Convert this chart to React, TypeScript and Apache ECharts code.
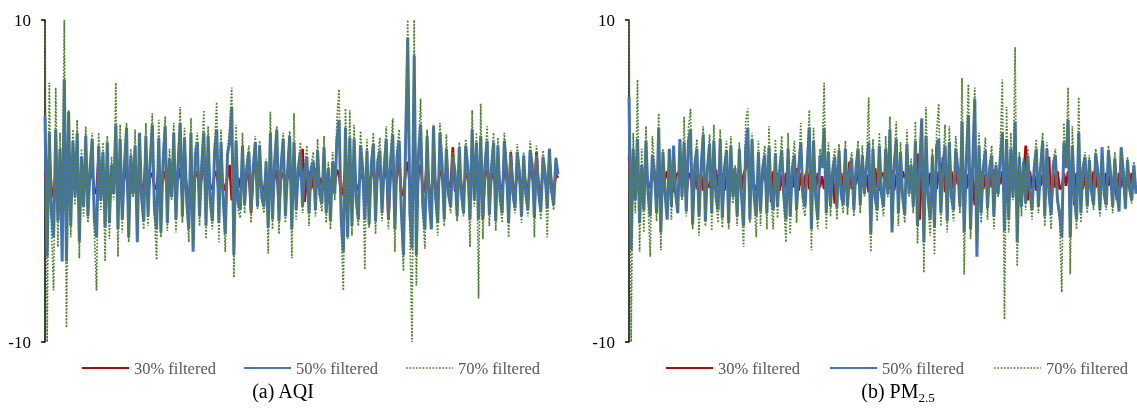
import React, { useEffect, useRef } from "react";
import * as echarts from "echarts";

const seriesNames = ["30% filtered", "50% filtered", "70% filtered"];
const yTicks = [-10, 10];
const panelTitles = ["(a) AQI", "(b) PM{sub|2.5}"];

// (a) AQI
const aqi30 = [
  0.5, -0.8, 1.5, -0.4, -1.0, 0.6, -0.4, 0.3, -0.9, 0.8, -0.9, 0.5,
  -0.6, 0.8, -0.2, 0.4, -0.7, 0.3, -0.6, 0.9, -0.5, 0.2, 0.7, -0.8,
  -0.6, 1.6, -0.3, 0.4, -1.2, 0.6, -0.5, 0.2, -0.3, 1.6, -0.7, 0.5,
  -1.0, 0.3, 0.8, -1.8, 0.6, -0.2, 0.5, -1.2, 0.4, -0.3, -0.6, 1.7,
  -0.8, 0.3, 0.5, -0.4, -0.5, 1.0, -0.7, 0.2, 0.6, -0.9, 0.4, -0.3,
  0.4, -0.5, 0.2, 0.8, -1.0, 0.6, -0.3, -1.7, 0.5, -0.4, 0.3, 0.6,
  -0.5, 0.2, 1.8, -1.0, 0.7, -0.3, -0.5, 0.4, 0.6, -0.8, 0.4, -0.2,
  -0.6, 0.3, 1.0, -1.2, 0.5, -0.4, 0.2, -0.4, 0.6, -0.3, 0.2, 0.5,
  -2.0, 0.4, 1.2, -0.6, 0.5, -0.3, -0.7, 0.3, -0.9, 0.8, -0.6, 0.3,
  0.7, -1.7, 0.3, 0.5, -0.4, 0.2, 0.9, -0.6, 1.5, -0.8, 0.3, 0.6,
  2.0, -1.3, 0.3, 0.6, -0.5, 0.2, 0.8, -0.4, 0.2, -0.3, 0.6, -0.7,
  0.3, -0.6, 0.5, -0.2, 0.7, 0.4, -0.9, -0.5, 1.0, -0.8, 0.6, -0.5,
  0.9, -0.3, -0.6, 0.5, 0.2, -0.7, 0.6, -0.5, 0.3, 0.8, -0.6, 0.4,
  0.7, -0.4, 0.2, 1.5, -2.4, 0.4, 0.8, -0.6, 0.3, 1.4, -0.8, -0.9,
  0.6, 1.2, -0.4, -1.2, 3.8, -1.5, 0.5, 1.0, -0.4, -0.7, 1.5, -0.6,
  -0.8, 0.8, -0.3, -0.6, 0.7, 0.3, -0.9, 0.5, -0.2, -0.4, 2.1, -0.6,
  -0.7, 0.7, -0.3, -0.8, 0.5, 0.2, -0.7, 0.6, -0.3, 0.5, -0.5, 1.6,
  -2.4, 0.4, 0.7, -0.6, 0.2, 0.5, -0.6, 0.8, -0.3, -0.5, 0.7, 0.2,
  -0.9, 1.8, -0.3, -0.6, 0.5, 0.2, -0.8, 0.6, -0.2, -0.5, 0.7, 0.3,
  -0.6, 1.8, -0.3, -0.7, 0.5, 0.2, -0.8, 1.3, -0.2, -0.6, 0.4, 0.2,
];
const aqi50 = [
  4.0, -4.7, 3.0, -2.0, -3.5, 3.2, -2.5, 2.0, -5.0, 6.3, -5.0, 4.3,
  -2.8, 2.5, -1.0, 3.0, -3.8, 1.5, -1.6, 2.8, -2.2, 0.8, 2.6, -2.4,
  -3.5, 2.2, -1.2, 1.8, -2.9, 2.4, -2.6, 1.0, -0.8, 3.5, -3.0, 2.6,
  -2.4, 1.0, 3.3, -3.5, 1.6, -0.8, 2.2, -3.8, 3.0, -1.0, -2.5, 2.8,
  -2.2, 1.2, 3.5, -1.8, -3.0, 2.7, -3.2, 1.2, 3.4, -2.6, 1.4, -1.0,
  3.0, -2.4, 1.0, 3.6, -2.2, 2.7, -1.2, -3.0, 3.0, -4.4, 1.6, 2.4,
  -2.2, 1.0, 3.0, -2.8, 2.8, -1.2, -2.5, 1.8, 3.2, -2.6, 2.4, -1.0,
  -3.3, 1.6, 2.4, 4.6, -4.6, 2.5, -1.4, -1.8, 2.2, -1.5, 0.8, 1.8,
  -1.8, 0.8, 2.4, -1.6, 2.2, -1.0, -1.6, 1.2, -2.9, 3.0, -2.4, 1.2,
  3.2, -2.5, 1.0, 2.6, -2.2, 0.6, 2.8, -3.0, 2.4, -1.8, 0.8, 1.8,
  -1.6, 0.6, 1.5, -2.0, 0.8, 1.2, -1.8, 1.9, -0.8, -1.4, 2.1, -2.0,
  0.8, -2.5, 1.2, -0.8, 2.6, 3.8, -2.4, -4.4, 3.3, -3.5, 2.7, -2.8,
  2.6, -1.2, -2.4, 2.2, 0.8, -2.4, 1.9, -2.7, 1.0, 2.3, -2.5, 1.2,
  1.9, -2.0, 0.8, 2.6, -2.3, 1.2, 2.9, -3.0, 1.5, 2.5, -1.8, -4.6,
  2.4, 8.9, -2.0, -4.2, 7.8, -4.6, 1.6, 3.5, -1.5, -3.0, 2.8, -1.2,
  -3.0, 3.4, -1.0, -2.6, 3.0, 1.0, -2.4, 2.0, -0.8, -1.6, 1.5, 0.6,
  -2.2, 2.1, -0.8, -2.0, 2.2, 0.8, -2.4, 3.2, -1.2, 2.4, -2.4, 2.8,
  -2.2, 1.0, 2.5, -2.1, 0.8, 2.4, -2.5, 2.2, -1.0, -2.0, 2.5, 0.8,
  -2.6, 1.6, -0.8, -1.7, 1.8, 0.6, -2.2, 1.6, -0.8, -1.8, 1.9, 1.0,
  -2.3, 1.6, -0.8, -1.9, 1.5, 0.5, -1.7, 2.0, -0.6, -1.5, 1.4, 0.4,
];
const aqi70 = [
  9.8, -10, 6.1, -3.0, -6.8, 5.8, -4.1, 3.0, -2.0, 10, -9.1, 4.4,
  -3.5, 3.2, -1.5, 3.8, -4.8, 2.0, -2.2, 3.4, -2.6, 1.0, 3.0, -3.2,
  -6.8, 3.0, -1.8, 2.4, -5.0, 2.8, -3.6, 1.5, -1.2, 6.1, -4.7, 3.5,
  -3.2, 1.2, 3.6, -3.8, 2.0, -1.0, 3.2, -3.4, 2.9, -1.4, -3.0, 3.6,
  -2.8, 1.5, 4.2, -2.2, -4.9, 3.8, -3.5, 1.6, 4.0, -3.1, 2.0, -1.2,
  3.6, -3.2, 1.4, 4.6, -2.6, 3.3, -1.5, -3.8, 3.9, -4.0, 2.0, 3.0,
  -2.8, 1.2, 4.4, -3.6, 3.4, -1.6, -3.0, 2.2, 4.9, -3.8, 3.2, -1.4,
  -4.4, 2.0, 3.2, 5.8, -6.0, 3.5, -1.8, -2.3, 3.0, -2.0, 1.2, 2.2,
  -2.6, 1.0, 2.8, -1.8, 2.5, -1.2, -2.0, 1.4, -4.5, 4.3, -3.0, 1.6,
  3.4, -3.3, 1.2, 3.0, -2.6, 0.8, 3.1, -4.8, 4.2, -2.4, 1.0, 2.4,
  -2.0, 0.8, 2.2, -2.8, 1.0, 1.8, -2.2, 2.6, -1.0, -1.9, 2.8, -2.6,
  1.2, -3.0, 1.8, -1.2, 3.8, 5.7, -3.0, -6.8, 4.5, -3.6, 4.4, -3.4,
  3.5, -1.5, -2.8, 3.1, 1.0, -5.5, 2.6, -2.9, 1.2, 3.0, -3.3, 1.4,
  2.7, -2.5, 1.0, 3.4, -3.0, 1.6, 3.9, -4.4, 2.0, 3.2, -2.2, -5.6,
  3.0, 10, -3.0, -10, 10, -6.5, 2.0, 5.1, -2.0, -4.2, 3.2, -1.6,
  -3.0, 3.5, -1.4, -3.4, 3.6, 1.2, -2.8, 2.9, -1.0, -2.0, 1.8, 0.8,
  -2.5, 2.4, -1.0, -2.2, 2.6, 1.0, -4.1, 4.4, -1.6, 3.0, -7.3, 4.8,
  -3.6, 1.4, 3.4, -2.8, 1.0, 3.0, -3.1, 2.7, -1.2, -2.6, 3.0, 1.0,
  -3.5, 1.9, -1.0, -2.0, 2.3, 0.8, -2.6, 1.8, -1.0, -2.2, 2.5, 1.2,
  -3.5, 2.2, -1.0, -2.4, 1.9, 0.6, -3.5, 2.0, -0.8, -1.8, 1.5, 0.5,
];

// (b) PM2.5
const pm30 = [
  1.5, -1.0, 1.7, -0.4, 0.6, -0.6, 0.3, -0.8, 0.6, -0.2, -0.4, 0.7,
  0.2, -0.6, -1.0, 0.5, -0.4, 0.2, 0.6, -0.5, 0.4, -0.7, 0.2, 0.5,
  0.6, -0.3, 0.4, -1.0, 0.5, 0.3, -0.6, 0.7, -0.5, 0.2, 0.4, -0.6,
  0.5, -0.2, -0.4, 0.6, -0.5, 0.7, -0.4, 0.2, 0.5, -0.6, 0.4, 0.2,
  0.6, -0.3, 0.5, -0.4, 0.3, -0.6, 0.4, 0.8, 2.2, -0.7, 0.5, -0.3,
  -0.6, 0.4, -0.5, 0.2, 0.5, -0.4, 1.7, -1.3, 0.6, -0.4, 0.5, -0.6,
  0.4, -0.7, 0.5, -0.2, -0.5, 0.6, -0.4, 0.8, -0.6, 0.5, -0.7, 0.3,
  0.6, -0.5, 0.4, -0.2, -0.6, 0.5, -0.4, 0.3, -0.5, 0.4, -0.6, 0.2,
  0.5, -1.4, 0.4, -0.3, 0.5, -0.6, 0.7, -0.4, 1.2, -0.5, 0.3, -0.2,
  0.6, -0.4, 0.5, -0.6, 0.4, -0.7, 0.6, -0.5, 0.8, -0.3, -0.6, 0.4,
  0.5, -0.4, 0.6, -0.5, 0.7, -0.6, 0.4, -0.2, -0.5, 0.6, 0.2, 0.4,
  0.4, -0.3, 0.6, -0.5, 1.7, -2.4, 0.6, -0.5, 0.7, -0.4, 0.5, -0.6,
  0.4, -0.5, 0.6, -0.3, 1.5, -0.7, 0.5, -0.4, 0.6, -0.5, 0.7, -0.2,
  0.5, -0.4, 0.6, -0.5, 0.4, -0.6, 0.5, -1.5, 0.7, -0.4, 0.6, -0.5,
  0.4, -0.6, 0.5, -0.4, 0.7, -0.5, 0.3, -0.2, 0.6, -0.7, 0.5, -0.4,
  0.3, -0.5, 0.4, -0.3, 0.6, -0.5, 0.2, 2.2, -1.2, 0.6, -0.5, 0.4,
  -0.6, 0.5, -0.3, 0.4, -0.5, 0.6, 1.5, -1.6, 0.5, -0.4, 0.6, -0.5,
  -0.4, 0.5, -0.3, 0.6, -0.5, 0.4, -1.5, 0.5, -0.6, 0.4, -0.5, 0.6,
  -1.0, 0.4, -0.5, 0.6, -0.4, 0.5, -0.6, 0.3, -0.4, 0.5, -0.3, 0.4,
  -0.6, 0.4, -1.2, 0.5, -0.4, 0.6, -0.5, 0.4, -0.3, 0.5, -0.4, -0.3,
];
const pm50 = [
  5.2, -4.3, 2.0, -1.2, 2.6, -2.6, 1.0, -1.8, 2.5, -0.8, -2.2, 1.6,
  0.6, -2.0, 3.3, -3.2, 1.8, -0.8, -2.4, 2.0, -1.6, 2.2, -0.8, -2.0,
  2.6, -1.0, 2.4, -1.9, 2.4, 3.2, -2.7, 1.0, 2.0, -2.2, 0.8, 2.9,
  -2.5, 0.8, 2.3, -2.0, 2.5, -1.0, -1.8, 2.6, -2.3, 0.8, 1.9, -2.6,
  2.2, -1.0, 0.8, -2.2, 2.0, -0.8, -2.8, 2.0, 3.3, -2.4, 2.6, -1.0,
  -2.2, 1.8, -1.9, 0.8, 1.6, -2.0, 2.1, -0.8, -1.8, 1.7, -1.6, 0.6,
  1.9, -1.0, -2.4, 2.0, -2.2, 0.8, 1.6, -1.8, 0.8, 2.4, -1.0, -1.6,
  1.0, 3.3, -3.0, 2.5, -1.0, -2.4, 1.6, 0.8, 3.3, -2.0, 1.8, -1.6,
  0.6, 1.5, -1.7, 1.9, -0.8, -1.5, 2.0, -1.6, 0.6, 1.4, -1.8, 0.8,
  2.0, -1.5, 1.6, -0.8, 1.0, 2.4, -3.3, 2.0, -1.0, -1.8, 2.2, -0.8,
  -1.6, 2.0, -0.8, 3.2, -3.2, 1.0, 2.6, -2.0, 1.8, -1.0, -2.1, 2.3,
  -0.8, 1.0, -1.6, 2.5, -2.8, 0.8, 3.9, -3.8, 2.8, -1.0, -2.4, 1.6,
  -2.9, 2.2, 2.6, -2.0, 0.8, 2.2, -2.5, 2.4, -1.0, -1.8, 2.0, 0.8,
  -1.6, 3.7, -3.2, 1.2, 4.1, -3.0, 1.0, 5.1, -4.7, 2.2, -2.0, 0.8,
  1.9, -1.7, 0.8, 1.6, -2.2, 1.0, -0.8, 1.4, 3.0, -3.1, 2.6, -2.4,
  2.0, -1.0, 3.7, -3.8, 1.5, -1.6, 1.2, -1.4, 1.6, -0.6, -1.8, 0.8,
  2.0, -1.6, 0.8, 2.5, -2.2, 2.0, -0.8, -2.1, 1.0, 1.6, -1.2, -2.0,
  -3.5, 2.4, 0.8, 3.8, -3.5, 2.2, -1.0, -2.4, 3.0, -2.0, 0.8, 1.5,
  -1.6, 1.3, -0.6, -1.5, 1.7, 0.6, -1.8, 2.1, -0.8, -1.5, 1.9, 0.5,
  -1.6, 1.4, -0.6, -1.9, 2.1, 0.6, -1.7, 1.3, -0.5, -1.2, 1.0, -0.8,
];
const pm70 = [
  10, -10, 3.0, -2.0, 6.3, -4.4, 2.0, -3.2, 3.4, -1.2, -4.7, 2.8,
  1.0, -2.5, 4.2, -4.3, 2.0, -1.0, -2.2, 2.0, -2.4, 1.8, -1.0, -2.0,
  2.2, -1.2, 4.0, -2.2, 3.2, 4.5, -3.0, 1.2, 2.6, -3.4, 1.0, 3.4,
  -2.8, 1.0, 2.9, -3.1, 3.5, -1.2, -2.6, 3.2, -2.9, 1.0, 2.5, -3.0,
  2.8, -1.4, 1.0, -2.8, 2.4, -1.0, -4.1, 3.7, 4.5, -2.6, 3.0, -1.2,
  -3.5, 2.5, -2.8, 1.0, 2.2, -3.0, 3.4, -1.2, -3.0, 2.6, -2.3, 1.0,
  2.8, -1.4, -3.8, 3.0, -3.3, 1.2, 2.5, -2.6, 1.0, 3.6, -1.6, -2.2,
  1.2, 4.4, -4.3, 3.3, -1.2, -3.0, 2.0, 1.0, 6.1, -3.0, 2.4, -2.2,
  1.0, 2.0, -2.4, 2.3, -1.0, -2.0, 2.5, -2.1, 0.8, 1.8, -2.2, 1.0,
  2.5, -2.0, 2.2, -1.0, 1.2, 5.2, -4.4, 2.6, -1.2, -2.5, 3.0, -1.0,
  -2.2, 2.8, -1.0, 4.0, -3.0, 1.0, 3.7, -2.8, 2.4, -1.2, -2.6, 3.2,
  -1.0, 1.4, -2.0, 3.7, -3.9, 1.2, 3.8, -5.7, 4.6, -1.4, -3.4, 2.0,
  -4.6, 3.0, 4.8, -2.8, 1.0, 3.5, -3.2, 3.4, -1.2, -2.5, 2.8, 1.0,
  -2.0, 6.4, -5.8, 2.0, 6.0, -3.6, 1.2, 5.8, -4.0, 3.0, -2.6, 1.0,
  2.7, -2.4, 1.0, 2.2, -3.0, 1.2, -1.0, 2.0, 6.3, -8.6, 4.6, -3.2,
  3.0, -1.2, 8.3, -5.3, 1.8, -2.2, 1.4, -1.8, 2.0, -0.8, -2.4, 1.0,
  2.6, -2.0, 1.0, 3.0, -2.8, 2.4, -1.0, -3.0, 1.2, 2.0, -1.4, -2.5,
  -6.9, 3.6, 1.0, 5.8, -5.8, 3.4, -1.2, -3.0, 5.2, -2.6, 1.0, 1.8,
  -2.0, 1.6, -0.8, -1.8, 2.0, 0.8, -2.2, 1.6, -1.0, -1.8, 2.2, 0.6,
  -2.0, 1.8, -0.6, -1.6, 2.0, 0.8, -1.8, 1.5, -0.6, -1.4, 1.2, -0.5,
];

const panels = [
  { title: panelTitles[0], data: [aqi30, aqi50, aqi70] },
  { title: panelTitles[1], data: [pm30, pm50, pm70] },
];

const colors = ["#C00000", "#4472C4", "#4F7F2F"];
const widths = [2.6, 3, 1.7];
const FONT = "Liberation Serif";
const DOT = [1.7, 1.6];

export default function App() {
  const ref = useRef<HTMLDivElement>(null);
  useEffect(() => {
    if (!ref.current) return;
    const chart = echarts.init(ref.current, null, { renderer: "svg" });
    const grids = [
      { left: 45, top: 20, width: 513, height: 322 },
      { left: 629, top: 20, width: 507, height: 322 },
    ];
    const legendItemX = [
      [82, 244, 406],
      [666, 830, 994],
    ];
    const legendY = 368;
    const titleX = [283, 898];
    const steps = panels.map((p) => p.data[0].map((_, i) => String(i + 1)));

    const series: any[] = [];
    panels.forEach((p, pi) => {
      p.data.forEach((vals, si) => {
        series.push({
          name: seriesNames[si],
          type: "line",
          xAxisIndex: pi,
          yAxisIndex: pi,
          data: vals,
          symbol: "none",
          showSymbol: false,
          z: 2 + si,
          lineStyle: {
            color: colors[si],
            width: widths[si],
            type: si === 2 ? DOT : "solid",
          },
        });
      });
    });

    const graphics: any[] = [];
    legendItemX.forEach((xs) => {
      seriesNames.forEach((name, si) => {
        const x0 = xs[si];
        graphics.push({
          type: "line",
          shape: { x1: x0, y1: legendY, x2: x0 + 47, y2: legendY },
          style: {
            stroke: colors[si],
            lineWidth: si === 2 ? 1.6 : 2.2,
            lineDash: si === 2 ? DOT : null,
          },
        });
        graphics.push({
          type: "text",
          x: x0 + 52,
          y: legendY,
          style: {
            text: name,
            fill: "#595959",
            font: `16.5px "${FONT}"`,
            verticalAlign: "middle",
            align: "left",
          },
        });
      });
    });
    panels.forEach((p, i) => {
      graphics.push({
        type: "text",
        x: titleX[i],
        y: 391,
        style: {
          text: p.title,
          fill: "#000",
          font: `20px "${FONT}"`,
          fontSize: 20,
          fontFamily: FONT,
          align: "center",
          verticalAlign: "middle",
          lineHeight: 25,
          rich: {
            sub: { fontSize: 13, fontFamily: FONT, verticalAlign: "bottom", lineHeight: 13 },
          },
        },
      });
    });

    chart.setOption({
      animation: false,
      grid: grids,
      xAxis: grids.map((_, i) => ({
        type: "category",
        gridIndex: i,
        data: steps[i],
        boundaryGap: false,
        show: false,
      })),
      yAxis: grids.map((_, i) => ({
        type: "value",
        gridIndex: i,
        min: yTicks[0],
        max: yTicks[1],
        interval: 20,
        axisLine: { show: true, lineStyle: { color: "#000", width: 1.5 } },
        axisTick: { show: true, length: 4, lineStyle: { color: "#000", width: 1.5 } },
        splitLine: { show: false },
        axisLabel: { color: "#000", fontSize: 17, fontFamily: FONT, margin: 14 },
      })),
      graphic: graphics,
      series,
    });
    return () => chart.dispose();
  }, []);
  return (
    <div
      ref={ref}
      style={{ position: "fixed", left: 0, top: 0, width: 1137, height: 410 }}
    />
  );
}
